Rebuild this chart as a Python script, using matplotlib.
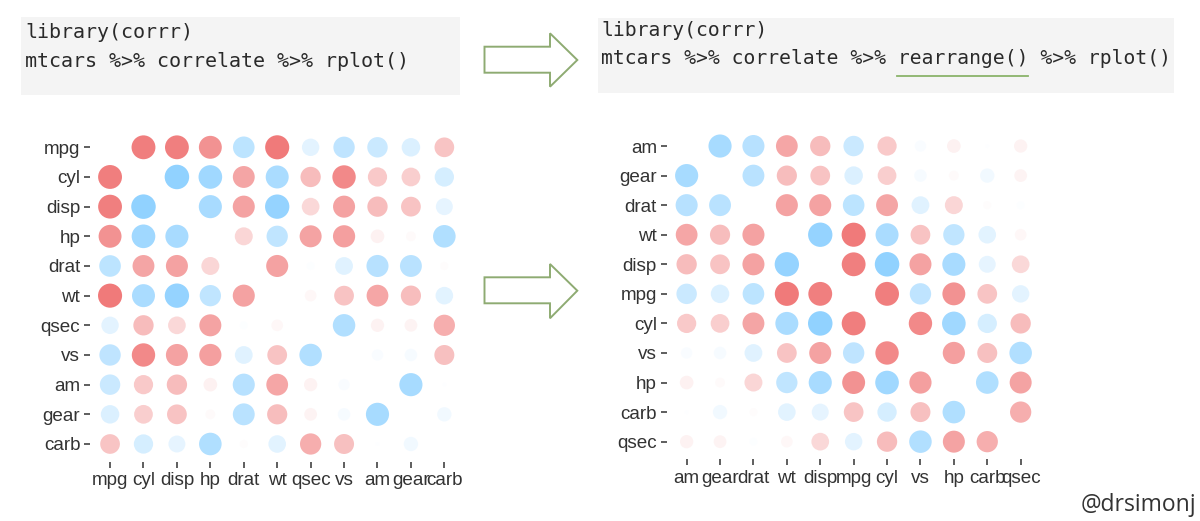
import numpy as np
import matplotlib.pyplot as plt
from matplotlib.patches import Rectangle, Polygon

# mtcars correlations (diagonal left blank)
variables = ["mpg", "cyl", "disp", "hp", "drat", "wt", "qsec", "vs", "am", "gear", "carb"]
r_mpg = [None, -0.852, -0.848, -0.776, 0.681, -0.868, 0.419, 0.664, 0.600, 0.480, -0.551]
r_cyl = [-0.852, None, 0.902, 0.832, -0.700, 0.782, -0.591, -0.811, -0.523, -0.493, 0.527]
r_disp = [-0.848, 0.902, None, 0.791, -0.710, 0.888, -0.434, -0.710, -0.591, -0.556, 0.395]
r_hp = [-0.776, 0.832, 0.791, None, -0.449, 0.659, -0.708, -0.723, -0.243, -0.126, 0.750]
r_drat = [0.681, -0.700, -0.710, -0.449, None, -0.712, 0.091, 0.440, 0.713, 0.700, -0.091]
r_wt = [-0.868, 0.782, 0.888, 0.659, -0.712, None, -0.175, -0.555, -0.692, -0.583, 0.428]
r_qsec = [0.419, -0.591, -0.434, -0.708, 0.091, -0.175, None, 0.745, -0.230, -0.213, -0.656]
r_vs = [0.664, -0.811, -0.710, -0.723, 0.440, -0.555, 0.745, None, 0.168, 0.206, -0.570]
r_am = [0.600, -0.523, -0.591, -0.243, 0.713, -0.692, -0.230, 0.168, None, 0.794, 0.058]
r_gear = [0.480, -0.493, -0.556, -0.126, 0.700, -0.583, -0.213, 0.206, 0.794, None, 0.274]
r_carb = [-0.551, 0.527, 0.395, 0.750, -0.091, 0.428, -0.656, -0.570, 0.058, 0.274, None]

rearranged = ["am", "gear", "drat", "wt", "disp", "mpg", "cyl", "vs", "hp", "carb", "qsec"]

code_left = ["library(corrr)", "mtcars %>% correlate %>% rplot()"]
code_right = ["library(corrr)", "mtcars %>% correlate %>% rearrange() %>% rplot()"]

rows = [r_mpg, r_cyl, r_disp, r_hp, r_drat, r_wt, r_qsec, r_vs, r_am, r_gear, r_carb]
mat = np.array([[np.nan if v is None else v for v in row] for row in rows])

W, H = 1200, 521
fig = plt.figure(figsize=(W / 100, H / 100), dpi=100)
plt.rcParams["font.family"] = ["Liberation Sans", "DejaVu Sans"]

def fx(x):
    return x / W

def fy(y):
    return 1 - y / H

red = np.array([0xEE, 0x63, 0x63]) / 255
blue = np.array([0x87, 0xCE, 0xFF]) / 255
absvals = np.abs(mat[~np.isnan(mat)])
rmin, rmax = absvals.min(), absvals.max()


def rplot(ax, order):
    idx = [variables.index(v) for v in order]
    m = mat[np.ix_(idx, idx)]
    xs, ys, sizes, cols = [], [], [], []
    for i in range(len(order)):
        for j in range(len(order)):
            r = m[i, j]
            if np.isnan(r):
                continue
            t = (abs(r) - rmin) / (rmax - rmin)
            base = red if r < 0 else blue
            c = 1 - abs(r) ** 0.85 * (1 - base)
            alpha = 0.1 + 0.9 * t
            size = 1 + 5 * np.sqrt(t)
            d_px = 24.5 * size / 6
            xs.append(j)
            ys.append(i)
            sizes.append((d_px * 0.72) ** 2)
            cols.append((*c, alpha))
    ax.scatter(xs, ys, s=sizes, c=cols, linewidths=0)
    ax.set_xlim(-0.6, len(order) - 0.4)
    ax.set_ylim(len(order) - 0.4, -0.6)
    ax.set_xticks(range(len(order)))
    ax.set_xticklabels(order)
    ax.set_yticks(range(len(order)))
    ax.set_yticklabels(order)
    for s in ax.spines.values():
        s.set_visible(False)
    ax.tick_params(length=4.5, width=1.1, color="#333333", labelsize=13.6,
                   labelcolor="#333333", pad=2.5)
    ax.tick_params(axis="x", pad=3)


ax1 = fig.add_axes([fx(90), fy(461.8), fx(374.4), 332.3 / H])
rplot(ax1, variables)
ax2 = fig.add_axes([fx(666.6), fy(459.4), fx(374.1), 331.1 / H])
rplot(ax2, rearranged)

# code boxes
fig.patches.append(Rectangle((fx(21), fy(95)), fx(439), 78 / H, transform=fig.transFigure,
                             facecolor="#f4f4f4", edgecolor="none", zorder=0))
fig.patches.append(Rectangle((fx(598), fy(93)), fx(576), 75 / H, transform=fig.transFigure,
                             facecolor="#f4f4f4", edgecolor="none", zorder=0))
for k, line in enumerate(code_left):
    fig.text(fx(25), fy(33 + 28.5 * k), line, family="DejaVu Sans Mono", fontsize=14.4,
             color="#2a2a2a", va="center", ha="left")
for k, line in enumerate(code_right):
    fig.text(fx(601), fy(31 + 27.5 * k), line, family="DejaVu Sans Mono", fontsize=14.1,
             color="#2a2a2a", va="center", ha="left")
fig.lines.append(plt.Line2D([fx(897), fx(1028)], [fy(75.7), fy(75.7)], transform=fig.transFigure,
                            color="#8ab36a", linewidth=1.3))

# arrows
def arrow(ytop, ybot, htop, hbot, ytip):
    pts = [(484.5, ytop), (550, ytop), (550, htop), (577.3, ytip), (550, hbot),
           (550, ybot), (484.5, ybot)]
    fig.patches.append(Polygon([(fx(x), fy(y)) for x, y in pts], closed=True,
                               transform=fig.transFigure, facecolor="white",
                               edgecolor="#8eab72", linewidth=1.4))

arrow(46.7, 72.7, 33.3, 86.7, 60)
arrow(277.3, 303.3, 264, 318.3, 290.7)

fig.text(fx(1196), fy(505), "@drsimonj", family="Open Sans", fontsize=16.5,
         color="#333333", ha="right", va="center")

fig.savefig("out.png", dpi=100, facecolor="white")
